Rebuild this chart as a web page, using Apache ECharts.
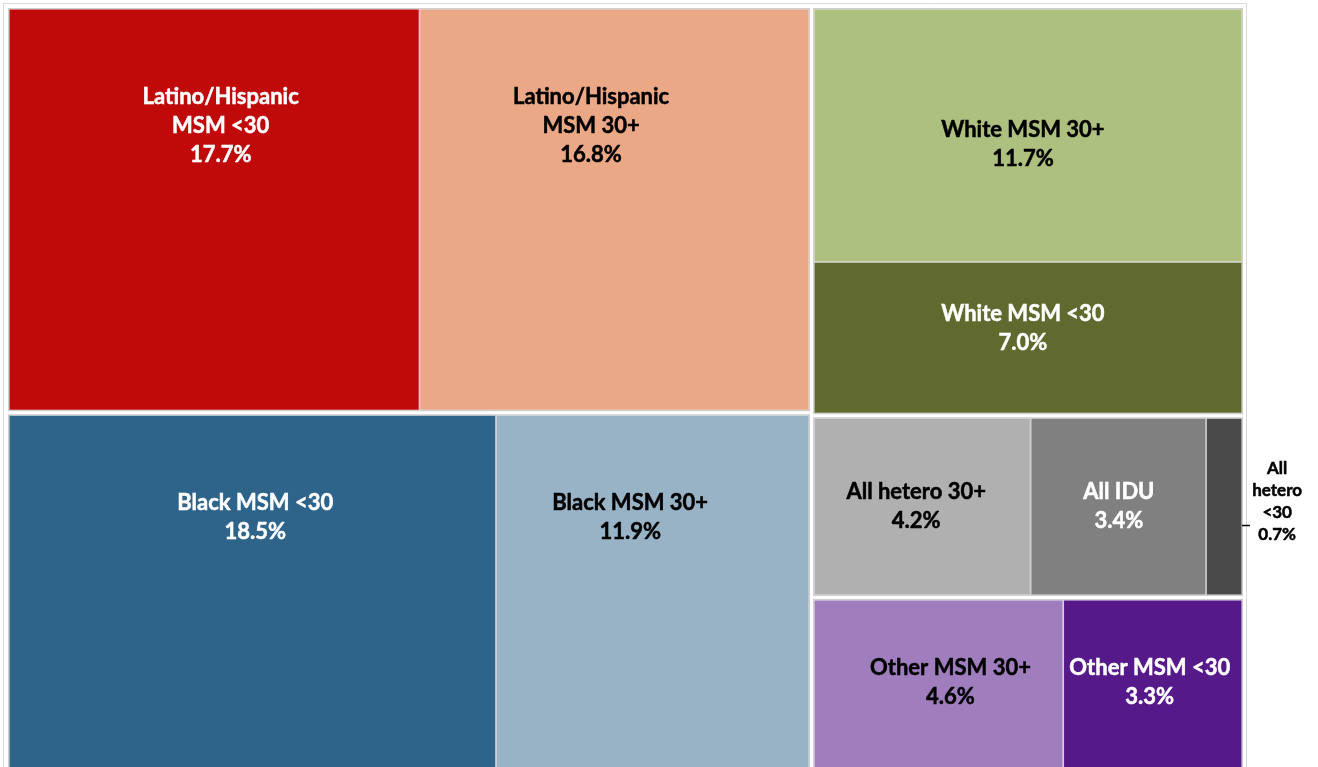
<!DOCTYPE html>
<html>
<head>
<meta charset="utf-8">
<title>Treemap</title>
<script src="https://cdn.jsdelivr.net/npm/echarts@6/dist/echarts.min.js"></script>
<style>
	html, body { margin: 0; padding: 0; background: #fff; }
	#main { width: 1318px; height: 767px; }
</style>
</head>
<body>
<div id="main"></div>
<script>
// data
var groupNames = ['Latino/Hispanic', 'Black', 'White', 'Hetero/IDU', 'Other'];
var leafNames = [
	['Latino/Hispanic\nMSM <30', 'Latino/Hispanic\nMSM 30+'],
	['Black MSM <30', 'Black MSM 30+'],
	['White MSM 30+', 'White MSM <30'],
	['All hetero 30+', 'All IDU', 'All\nhetero\n<30'],
	['Other MSM 30+', 'Other MSM <30']
];
var leafValues = [
	[17.7, 16.8],
	[18.5, 11.9],
	[11.7, 7.0],
	[4.2, 3.4, 0.7],
	[4.6, 3.3]
];

// styles
var leafColors = [
	['#c00a0a', '#eaa886'],
	['#2e638a', '#98b3c6'],
	['#adc07f', '#616a2e'],
	['#b0b0b0', '#808080', '#4a4a4a'],
	['#a07ebe', '#55198a']
];
var leafTextColors = [
	['#fff', '#000'],
	['#fff', '#000'],
	['#000', '#fff'],
	['#000', '#fff', '#000'],
	['#000', '#fff']
];
//label centre inside each cell, in percent of the cell
var labelAt = [
	[['51.6%', '29%'], ['44%', '29%']],
	[['50.6%', '29%'], ['42.8%', '29%']],
	[['48.8%', '53.4%'], ['48.8%', '43.6%']],
	[['47.2%', '50%'], ['50.3%', '50%'], ['203%', '47%']],
	[['54.8%', '49%'], ['48.3%', '49%']]
];

function buildData() {
	var list = [];
	for (var g = 0; g < groupNames.length; g++) {
		var children = [];
		for (var i = 0; i < leafValues[g].length; i++) {
			var small = (g == 3 && i == 2);
			children.push({
				name: leafNames[g][i],
				value: leafValues[g][i],
				itemStyle: { color: leafColors[g][i] },
				label: {
					position: labelAt[g][i],
					color: leafTextColors[g][i],
					textBorderColor: leafTextColors[g][i],
					textBorderWidth: 0.5,
					fontSize: small ? 17 : 22,
					lineHeight: small ? 22 : 29
				}
			});
		}
		list.push({ name: groupNames[g], children: children });
	}
	return list;
}

var myChart = echarts.init(document.getElementById('main'), null, { renderer: 'canvas' });
var option = {
	animation: false,
	series: [{
		type: 'treemap',
		left: 3,
		top: 3,
		width: 1245,
		height: 771,
		roam: false,
		nodeClick: false,
		breadcrumb: { show: false },
		squareRatio: 0.5 * (1 + Math.sqrt(5)),
		label: {
			show: true,
			align: 'center',
			verticalAlign: 'middle',
			fontFamily: 'Lato',
			fontWeight: 'bold',
			overflow: 'none',
			padding: 0,
			formatter: function (p) {
				return p.name + '\n' + p.value.toFixed(1) + '%';
			}
		},
		emphasis: { disabled: true },
		levels: [
			{ itemStyle: { borderWidth: 5, gapWidth: 3, borderColor: '#fff' } },
			{ itemStyle: { borderWidth: 1.5, gapWidth: 1.5, borderColor: '#cfcfcf' } },
			{ itemStyle: { borderWidth: 0, gapWidth: 0 } }
		],
		data: buildData()
	}],
	graphic: [
		{
			type: 'rect',
			z: 100,
			shape: { x: 3.5, y: 3.5, width: 1243, height: 780 },
			style: { fill: 'none', stroke: '#d9d9d9', lineWidth: 1 }
		},
		{
			type: 'line',
			z: 100,
			shape: { x1: 1242, y1: 525.5, x2: 1250, y2: 525.5 },
			style: { stroke: '#000', lineWidth: 1.5 }
		}
	]
};
myChart.setOption(option);
</script>
</body>
</html>
